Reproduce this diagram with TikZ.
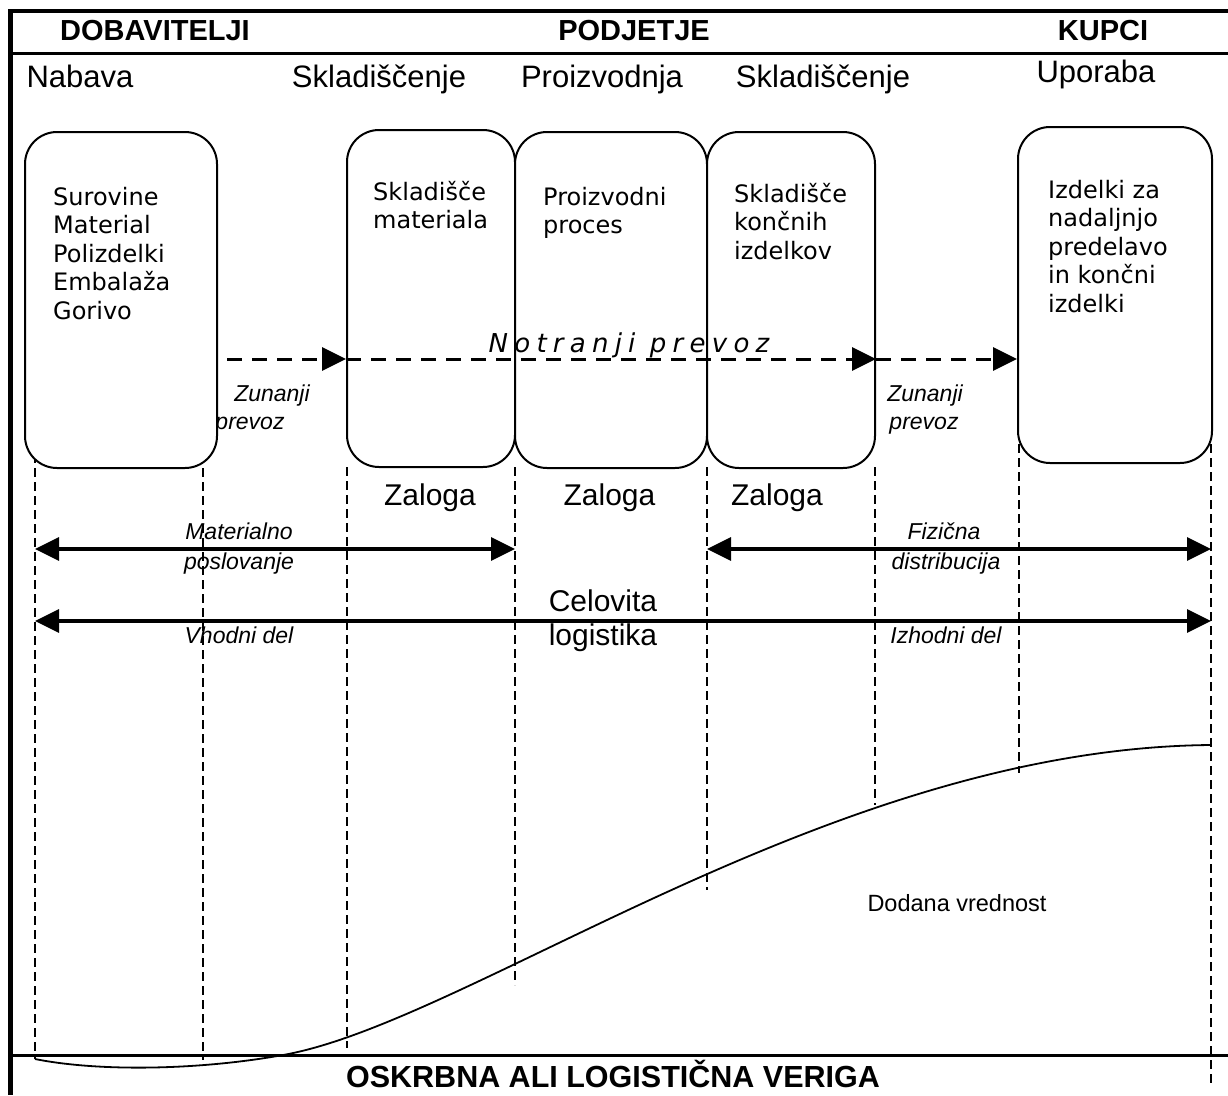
\documentclass[tikz,border=0pt]{standalone}
\usepackage{fontspec}
\setmainfont{Liberation Sans}
\newfontfamily\dvs{DejaVu Sans}
\newfontfamily\dvsls[LetterSpace=24]{DejaVu Sans}
\usetikzlibrary{arrows.meta}
\begin{document}
\begin{tikzpicture}[x=1pt,y=-1pt,
  hdr/.style={font=\fontsize{29}{34}\selectfont\bfseries, anchor=base, inner sep=0},
  ftr/.style={font=\fontsize{30.5}{36}\selectfont\bfseries, anchor=base, inner sep=0},
  phase/.style={font=\fontsize{31}{37}\selectfont, anchor=base, inner sep=0},
  lbl/.style={font=\fontsize{30}{36}\selectfont, anchor=base, inner sep=0},
  box/.style={draw, line width=2pt, rounded corners=32pt, fill=white, inner sep=0},
  boxtxt/.style={font=\dvs\fontsize{24}{28.5}\selectfont, align=left, anchor=north west, inner sep=0},
  itl/.style={font=\fontsize{23}{27}\selectfont\itshape, anchor=base, inner sep=0},
  vdash/.style={line width=1.3pt, dash pattern=on 9pt off 5pt},
  hdash/.style={line width=3pt, dash pattern=on 15pt off 10pt, -{Triangle[length=24pt,width=23pt]}},
  solarrow/.style={line width=3.2pt},
  tips/.style={{Triangle[length=24pt,width=23pt]}-{Triangle[length=24pt,width=23pt]}},
]
\useasboundingbox (0,0) rectangle (1228,1095);

% frame
\draw[line width=4pt] (8,11) -- (1228,11);
\draw[line width=5pt] (10.5,9) -- (10.5,1095);
\draw[line width=3pt] (10.5,53) -- (1228,53);
\draw[line width=3pt] (10.5,1055) -- (1228,1055);

% headers
\node[hdr] (hd) at (155,40) {DOBAVITELJI};
\node[hdr] (hp) at (634,40) {PODJETJE};
\node[hdr] (hk) at (1103,40) {KUPCI};

% phases
\node[phase] (p1) at (80,87) {Nabava};
\node[phase] (p2) at (379,87) {Skladiščenje};
\node[phase] (p3) at (602,87) {Proizvodnja};
\node[phase] (p4) at (823,87) {Skladiščenje};
\node[phase] (p5) at (1096,82) {Uporaba};

% vertical dashed lines
\draw[vdash] (35,440) -- (35,1059);
\draw[vdash] (203,440) -- (203,1060);
\draw[vdash] (347,467) -- (347,1048);
\draw[vdash] (515,467) -- (515,985);
\draw[vdash] (707,467) -- (707,890);
\draw[vdash] (875,467) -- (875,805);
\draw[vdash] (1019,430) -- (1019,773);
\draw[vdash] (1211,430) -- (1211,1085);

% label partly hidden by box
\node[itl] (zp1b) at (250,429) {prevoz};

% boxes
\node[box, minimum width=192pt, minimum height=336pt] (b1) at (121,300) {};
\node[box, minimum width=168pt, minimum height=337pt] (b2) at (431,298.5) {};
\node[box, minimum width=192pt, minimum height=336pt] (b3) at (611,300) {};
\node[box, minimum width=168pt, minimum height=336pt] (b4) at (791,300) {};
\node[box, minimum width=194pt, minimum height=336pt] (b5) at (1115,295) {};

% box texts
\node[boxtxt] (t1) at (53,187) {Surovine\\Material\\Polizdelki\\Embalaža\\Gorivo};
\node[boxtxt] (t2) at (373,181) {Skladišče\\materiala};
\node[boxtxt] (t3) at (543,187) {Proizvodni\\proces};
\node[boxtxt] (t4) at (734,183) {Skladišče\\končnih\\izdelkov};
\node[boxtxt] (t5) at (1048,180) {Izdelki za\\nadaljnjo\\predelavo\\in končni\\izdelki};

% transport arrows
\coordinate (a0) at (227,359);
\draw[hdash] (a0) -- (a0 -| b2.west);
\draw[hdash] (a0 -| b2.west) -- (a0 -| b4.east);
\draw[hdash] (a0 -| b4.east) -- (a0 -| b5.west);
\node[font=\dvsls\itshape\fontsize{26}{30}\selectfont, anchor=base, inner sep=0] (np) at (629,352) {Notranji prevoz};

\node[itl] (zz1) at (272,401) {Zunanji};
\node[itl] (zz2) at (925,401) {Zunanji};
\node[itl] (zp2) at (924,429) {prevoz};

% Zaloga
\node[lbl] (z1) at (430,505) {Zaloga};
\node[lbl] (z2) at (609.5,505) {Zaloga};
\node[lbl] (z3) at (777,505) {Zaloga};

% range arrows
\coordinate (m1) at (35,549);
\coordinate (m2) at (515,549);
\coordinate (f1) at (707,549);
\coordinate (f2) at (1211,549);
\coordinate (c1) at (35,621);
\coordinate (c2) at (1211,621);
\draw[solarrow, tips] (m1) -- (m2);
\draw[solarrow, tips] (f1) -- (f2);
\draw[solarrow, tips] (c1) -- (c2);

\node[itl] (ml1) at (239,539) {Materialno};
\node[itl] (ml2) at (239,569) {poslovanje};
\node[itl] (fl1) at (944,539) {Fizična};
\node[itl] (fl2) at (946,569) {distribucija};
\node[lbl] (cl1) at (603,611) {Celovita};
\node[lbl] (cl2) at (603,645) {logistika};
\node[itl] (vd) at (239,643) {Vhodni del};
\node[itl] (id) at (946,643) {Izhodni del};

% value curve
\draw[line width=1.8pt] (35,1059) .. controls (100,1072) and (200,1070) .. (283,1055)
  .. controls (470,1022) and (830,748) .. (1211,745);
\node[font=\fontsize{23.5}{28}\selectfont, anchor=base, inner sep=0] (dv) at (957,911) {Dodana vrednost};

% footer
\node[ftr] (ft) at (613,1087) {OSKRBNA ALI LOGISTIČNA VERIGA};
\end{tikzpicture}
\end{document}
